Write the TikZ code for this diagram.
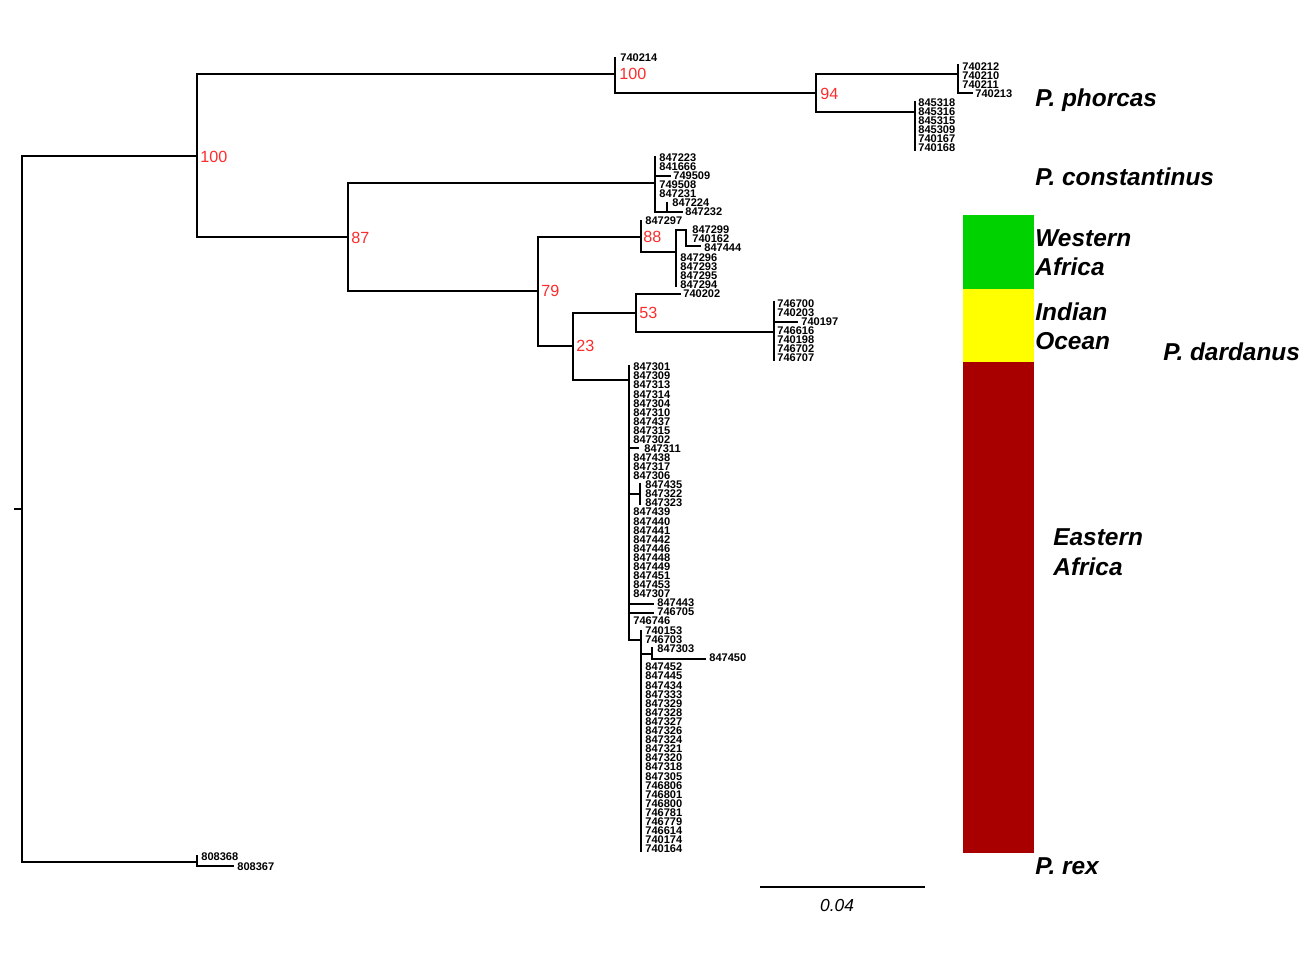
\documentclass[tikz,border=0pt]{standalone}
\usepackage{fontspec}
\setmainfont{Liberation Sans}
\usetikzlibrary{positioning}

\definecolor{bootred}{RGB}{250,45,45}
\definecolor{westgreen}{RGB}{0,210,0}
\definecolor{indyellow}{RGB}{255,255,0}
\definecolor{eastred}{RGB}{168,0,0}

\begin{document}
\begin{tikzpicture}[x=0.02cm, y=-0.02cm,
  branch/.style={line width=1.4pt, line cap=rect},
  tip/.style={font=\fontsize{6.3}{7}\selectfont\bfseries, anchor=west, inner sep=0pt},
  boot/.style={font=\fontsize{9.2}{10}\selectfont, text=bootred, anchor=west, inner sep=0pt},
  clade/.style={font=\fontsize{13.9}{17}\selectfont\bfseries\itshape, anchor=base west, inner sep=0pt, align=left}]
\useasboundingbox (0,0) rectangle (1314,972);

% Internal nodes
\coordinate (root) at (22,509);
\coordinate (nA) at (197,156);
\coordinate (rex) at (197,862);
\coordinate (nB) at (615,74);
\coordinate (nD) at (348,237);
\coordinate (nC) at (816,93);
\coordinate (phA) at (958,74);
\coordinate (phB) at (915,112);
\coordinate (con) at (655,183);
\coordinate (nE) at (538,291);
\coordinate (nF) at (641,237);
\coordinate (n23) at (573,346);
\coordinate (nG) at (676,252);
\coordinate (n53) at (636,313);
\coordinate (ind) at (774,332);
\coordinate (east) at (629,380);
\coordinate (eastsub) at (641,640);

% Backbone
\draw[branch] (root) -- ++(-7,0);
\draw[branch] (root) |- (nA);
\draw[branch] (root) |- (rex);
\draw[branch] (nA) |- (nB);
\draw[branch] (nA) |- (nD);
\draw[branch] (nB) |- (nC);
\draw[branch] (nB) -- (615,58);
\draw[branch] (nC) |- (phA);
\draw[branch] (nC) |- (phB);
\draw[branch] (nD) |- (con);
\draw[branch] (nD) |- (nE);
\draw[branch] (nE) |- (nF);
\draw[branch] (nE) |- (n23);
\draw[branch] (nF) |- (nG);
\draw[branch] (nF) -- (641,221);
\draw[branch] (n23) |- (n53);
\draw[branch] (n23) |- (east);
\draw[branch] (n53) |- (ind);
\draw[branch] (n53) |- (680,294);

% Bootstrap values
\node[boot] at (200,157) {100};
\node[boot] at (619,74) {100};
\node[boot] at (820,94) {94};
\node[boot] at (351,238) {87};
\node[boot] at (541,291) {79};
\node[boot] at (643,237) {88};
\node[boot] at (639,313) {53};
\node[boot] at (576,346) {23};

% P. phorcas
\draw[branch] (958,65) -- (958,93) -- (972,93);
\draw[branch] (915,102) -- (915,150);
\node[tip] at (620,58) {740214};
\node[tip] at (962,67) {740212};
\node[tip] at (962,76) {740210};
\node[tip] at (962,85) {740211};
\node[tip] at (975,94) {740213};
\foreach \lab [count=\i from 0] in {845318,845316,845315,845309,740167,740168}
  \node[tip] at (918,103+9*\i) {\lab};

% P. constantinus
\draw[branch] (655,157) -- (655,212) -- (667,212);
\draw[branch] (667,203) -- (667,212) -- (682,212);
\draw[branch] (655,176) -- (670,176);
\node[tip] at (659,158) {847223};
\node[tip] at (659,167) {841666};
\node[tip] at (673,176) {749509};
\node[tip] at (659,185) {749508};
\node[tip] at (659,194) {847231};
\node[tip] at (672,203) {847224};
\node[tip] at (685,212) {847232};

% Western Africa
\draw[branch] (676,230) -- (676,286);
\draw[branch] (676,230) -- (686,230) -- (686,246) -- (700,246);
\node[tip] at (645,221) {847297};
\node[tip] at (692,230) {847299};
\node[tip] at (692,239) {740162};
\node[tip] at (704,248) {847444};
\foreach \lab [count=\i from 0] in {847296,847293,847295,847294}
  \node[tip] at (680,258+9*\i) {\lab};

% Indian Ocean
\draw[branch] (774,302) -- (774,360);
\draw[branch] (774,322) -- (797,322);
\node[tip] at (683,294) {740202};
\node[tip] at (777,304) {746700};
\node[tip] at (777,313) {740203};
\node[tip] at (801,322) {740197};
\foreach \lab [count=\i from 0] in {746616,740198,746702,746707}
  \node[tip] at (777,331+9*\i) {\lab};

% Eastern Africa
\draw[branch] (629,366) -- (629,640) -- (eastsub);
\draw[branch] (629,448) -- (638,448);
\draw[branch] (629,494) -- (640,494);
\draw[branch] (640,484) -- (640,504);
\draw[branch] (629,604) -- (653,604);
\draw[branch] (629,613) -- (653,613);
\draw[branch] (641,631) -- (641,851);
\draw[branch] (641,654) -- (652,654);
\draw[branch] (652,648) -- (652,659) -- (705,659);
\foreach \lab/\xx [count=\i from 0] in {847301/633,847309/633,847313/633,847314/633,
    847304/633,847310/633,847437/633,847315/633,847302/633,847311/644,847438/633,
    847317/633,847306/633,847435/645,847322/645,847323/645,847439/633,847440/633,
    847441/633,847442/633,847446/633,847448/633,847449/633,847451/633,847453/633,
    847307/633,847443/657,746705/657,746746/633}
  \node[tip] at (\xx,367+9.07*\i) {\lab};
\node[tip] at (645,631) {740153};
\node[tip] at (645,640) {746703};
\node[tip] at (657,649) {847303};
\node[tip] at (709,658) {847450};
\foreach \lab [count=\i from 0] in {847452,847445,847434,847333,847329,847328,847327,
    847326,847324,847321,847320,847318,847305,746806,746801,746800,746781,746779,
    746614,740174,740164}
  \node[tip] at (645,667+9.1*\i) {\lab};

% P. rex
\draw[branch] (197,856) -- (197,866) -- (233,866);
\node[tip] at (201,857) {808368};
\node[tip] at (237,867) {808367};

% Scale bar
\draw[line width=1.6pt] (760,887) -- (925,887);
\node[font=\fontsize{9.9}{11}\selectfont\itshape] at (837,906) {0.04};

% Region bars
\fill[westgreen] (963,215) rectangle (1034,289);
\fill[indyellow] (963,289) rectangle (1034,362);
\fill[eastred] (963,362) rectangle (1034,853);

% Clade names
\node[clade] at (1035,107) {P. phorcas};
\node[clade] at (1035,186) {P. constantinus};
\node[clade] at (1035,276) {Western\\Africa};
\node[clade] at (1035,350) {Indian\\Ocean};
\node[clade] at (1163,361) {P. dardanus};
\node[clade] at (1053,575) {Eastern\\Africa};
\node[clade] at (1035,874) {P. rex};
\end{tikzpicture}
\end{document}
